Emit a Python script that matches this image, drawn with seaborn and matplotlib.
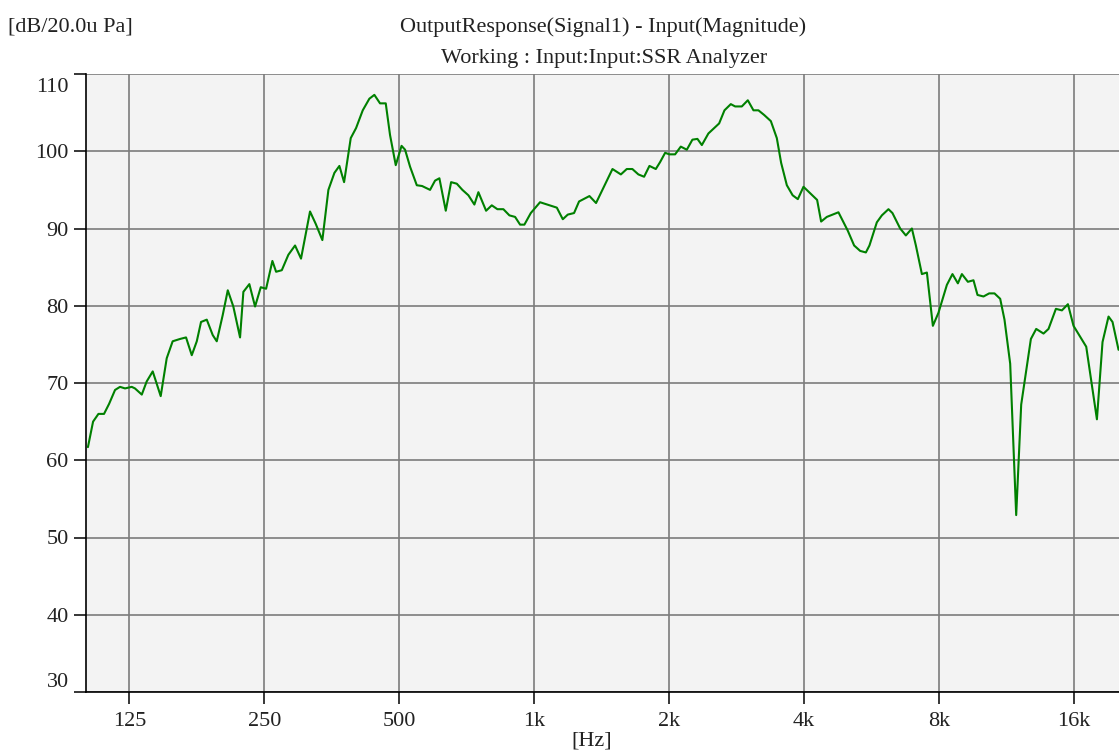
import numpy as np
import pandas as pd
import matplotlib
matplotlib.use('Agg')
import matplotlib.pyplot as plt
import matplotlib.ticker as mticker
import matplotlib.transforms as mtransforms
import seaborn as sns

sns.set_theme(style='ticks')
plt.rcParams['font.family'] = ['Liberation Serif', 'DejaVu Serif']

#==============================================================================
# DATA
#==============================================================================
freq_hz = [101.0, 103.7, 106.6, 109.7, 112.6, 116.1, 119.1, 122.2, 126.5, 128.6,
           133.2, 136.6, 140.9, 146.8, 151.4, 156.1, 162.1, 167.2, 172.2, 176.7,
           180.6, 186.0, 191.8, 195.8, 201.9, 207.2, 213.2, 220.7, 224.5, 231.5,
           238.4, 245.5, 252.3, 260.6, 265.6, 273.5, 282.9, 292.8, 301.9, 316.2,
           325.6, 336.9, 347.5, 358.4, 367.7, 376.7, 389.8, 400.6, 414.6, 428.9,
           440.1, 453.1, 466.6, 477.0, 491.2, 506.1, 515.3, 528.7, 547.3, 562.4,
           585.9, 601.2, 614.7, 635.2, 652.8, 672.2, 691.8, 713.5, 735.8, 751.1,
           781.4, 804.6, 828.1, 854.0, 880.8, 907.0, 930.6, 951.4, 983.2, 1031,
           1124, 1159, 1189, 1228, 1260, 1329, 1375, 1496, 1562, 1610,
           1657, 1709, 1760, 1809, 1869, 1911, 1961, 2004, 2064, 2125,
           2192, 2256, 2315, 2368, 2449, 2588, 2660, 2748, 2810, 2908,
           2999, 3087, 3167, 3261, 3376, 3481, 3559, 3665, 3776, 3878,
           3992, 4282, 4371, 4501, 4778, 5014, 5179, 5342, 5501, 5603,
           5820, 5972, 6178, 6306, 6561, 6756, 6968, 7113, 7336, 7527,
           7762, 7989, 8341, 8584, 8826, 9010, 9292, 9563, 9762, 10068,
           10367, 10653, 10970, 11215, 11548, 11910, 12220, 12844, 13200, 13705,
           14062, 14606, 15064, 15537, 15990, 17069, 18033, 18560, 19142, 19539,
           20152]

level_db = [61.7, 65.0, 66.0, 66.0, 67.3, 69.1, 69.5, 69.3, 69.5, 69.3,
            68.5, 70.2, 71.5, 68.3, 73.2, 75.4, 75.7, 75.9, 73.6, 75.4,
            77.9, 78.2, 76.2, 75.4, 78.8, 82.0, 79.9, 75.9, 81.8, 82.8,
            79.9, 82.4, 82.2, 85.8, 84.4, 84.6, 86.6, 87.8, 86.1, 92.2,
            90.6, 88.5, 95.0, 97.2, 98.1, 96.0, 101.7, 103.0, 105.3, 106.8,
            107.3, 106.2, 106.2, 102.1, 98.2, 100.7, 100.2, 98.0, 95.6, 95.5,
            95.0, 96.2, 96.5, 92.3, 96.0, 95.8, 95.0, 94.3, 93.1, 94.7,
            92.3, 93.0, 92.5, 92.5, 91.7, 91.5, 90.5, 90.5, 92.0, 93.4,
            92.7, 91.2, 91.8, 92.0, 93.5, 94.2, 93.3, 97.7, 97.0, 97.7,
            97.7, 97.0, 96.7, 98.1, 97.7, 98.6, 99.8, 99.6, 99.6, 100.6,
            100.2, 101.5, 101.6, 100.8, 102.3, 103.6, 105.3, 106.1, 105.8, 105.8,
            106.6, 105.3, 105.3, 104.7, 103.9, 101.7, 98.5, 95.6, 94.3, 93.8,
            95.4, 93.7, 90.9, 91.5, 92.1, 89.7, 87.8, 87.1, 86.9, 87.8,
            90.8, 91.7, 92.5, 92.0, 90.0, 89.1, 90.0, 87.8, 84.1, 84.3,
            77.4, 79.1, 82.7, 84.1, 82.9, 84.1, 83.1, 83.3, 81.4, 81.2,
            81.6, 81.6, 80.9, 78.2, 72.5, 52.9, 67.2, 75.7, 77.0, 76.4,
            77.0, 79.6, 79.4, 80.2, 77.4, 74.7, 65.3, 75.3, 78.6, 77.9,
            74.3]

tick_freqs = [125, 250, 500, 1000, 2000, 4000, 8000, 16000]
tick_names = ['125', '250', '500', '1k', '2k', '4k', '8k', '16k']
db_ticks = [30, 40, 50, 60, 70, 80, 90, 100, 110]

df = pd.DataFrame({'freq': freq_hz, 'level': level_db})

#==============================================================================
# PLOT
#==============================================================================
W, H = 1119, 752
fig = plt.figure(figsize=(W / 100, H / 100), dpi=100)
ax = fig.add_axes([86 / W, 1 - 692 / H, 1033 / W, 618 / H])
ax.set_facecolor('#f3f3f3')

sns.lineplot(data=df, x='freq', y='level', color='#008000', linewidth=1.5, ax=ax)

ax.set_xscale('log')
ax.set_xlim(100, 20200)
ax.set_ylim(30, 110)
ax.set_xticks(tick_freqs, tick_names)
ax.xaxis.set_minor_locator(mticker.NullLocator())
ax.set_yticks(db_ticks, [str(v) for v in db_ticks])
ax.set_xlabel('')
ax.set_ylabel('')

ax.grid(True, color='#7c7c7c', linewidth=1.2)
ax.set_axisbelow(True)
for s in ['top', 'right']:
    ax.spines[s].set_visible(False)
for s in ['left', 'bottom']:
    ax.spines[s].set_color('black')
    ax.spines[s].set_linewidth(1.2)

ax.tick_params(axis='both', direction='out', length=8.5, width=1.1, color='black',
               labelsize=16, labelcolor='#222222')
ax.tick_params(axis='x', pad=6)
ax.tick_params(axis='y', pad=4)

# end labels sit inside the axis range, like the analyzer draws them
ylabels = ax.get_yticklabels()
ylabels[0].set_va('bottom')
ylabels[-1].set_va('top')
ylabels[-1].set_transform(ylabels[-1].get_transform() +
                          mtransforms.ScaledTranslation(0, -4 / 100, fig.dpi_scale_trans))

fig.text(8 / W, 1 - 27 / H, '[dB/20.0u Pa]', ha='left', va='center', fontsize=16, color='#222222')
fig.text(603 / W, 1 - 27 / H, 'OutputResponse(Signal1) - Input(Magnitude)',
         ha='center', va='center', fontsize=16, color='#222222')
fig.text(604 / W, 1 - 58 / H, 'Working : Input:Input:SSR Analyzer',
         ha='center', va='center', fontsize=16, color='#222222')
fig.text(592 / W, 1 - 741 / H, '[Hz]', ha='center', va='center', fontsize=16, color='#222222')

fig.savefig('out.png', dpi=100)
